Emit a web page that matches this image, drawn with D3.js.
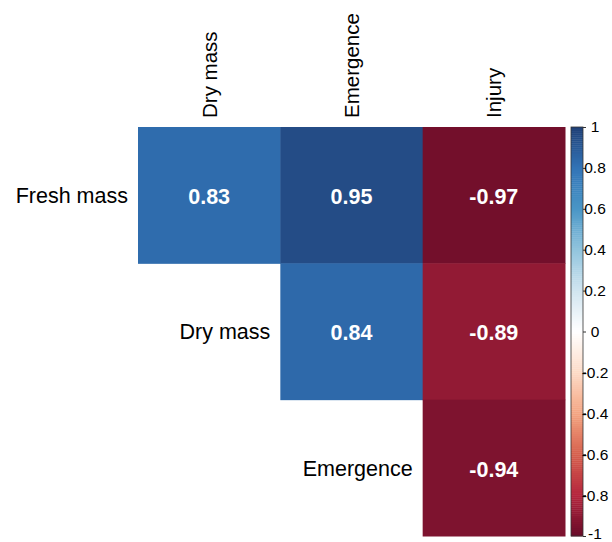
<!DOCTYPE html>
<html>
<head>
<meta charset="utf-8">
<script src="https://cdn.jsdelivr.net/npm/d3@7"></script>
<style>
  html, body { margin: 0; padding: 0; background: #fff; }
  svg { display: block; font-family: "Liberation Sans", Arial, sans-serif; }
</style>
</head>
<body>
<svg id="chart" width="612" height="542"></svg>
<script>
// Upper-triangle correlation matrix (variable pairs)
const rowLabels = ["Fresh mass", "Dry mass", "Emergence"];
const colLabels = ["Dry mass", "Emergence", "Injury"];
const freshMassRow = [0.83, 0.95, -0.97];
const dryMassRow = [null, 0.84, -0.89];
const emergenceRow = [null, null, -0.94];
const legendTicks = [1, 0.8, 0.6, 0.4, 0.2, 0, -0.2, -0.4, -0.6, -0.8, -1];

// Diverging red-blue palette anchored from -1 to 1
const paletteStops = ["#670B28", "#B5263E", "#D6604D", "#F4A582", "#FDDBC7", "#FFFFFF",
                      "#D1E5F0", "#92C5DE", "#4A96C6", "#3274B7", "#1F3F76"];

const rows = [freshMassRow, dryMassRow, emergenceRow];
const cells = [];
rows.forEach((r, i) => r.forEach((v, j) => {
  if (v !== null) cells.push({ row: rowLabels[i], col: colLabels[j], value: v });
}));

// Plain hyphen for negative numbers
const fmt2 = v => d3.format(".2f")(v).replace("\u2212", "-");

const svg = d3.select("#chart");

const x = d3.scaleBand().domain(colLabels).range([138, 565]);
const y = d3.scaleBand().domain(rowLabels).range([127, 536]);
const color = d3.scaleLinear()
  .domain(d3.range(11).map(k => -1 + k * 0.2))
  .range(paletteStops)
  .interpolate(d3.interpolateRgb);

// Cells
svg.append("g").selectAll("rect").data(cells).join("rect")
  .attr("x", d => x(d.col))
  .attr("y", d => y(d.row))
  .attr("width", x.bandwidth() + 0.5)
  .attr("height", y.bandwidth() + 0.5)
  .attr("fill", d => color(d.value));

// Cell values
svg.append("g").selectAll("text").data(cells).join("text")
  .attr("x", d => x(d.col) + x.bandwidth() / 2)
  .attr("y", d => y(d.row) + y.bandwidth() / 2 + 1)
  .attr("dy", "0.36em")
  .attr("text-anchor", "middle")
  .attr("font-size", 21.5)
  .attr("font-weight", "bold")
  .attr("fill", "#fff")
  .text(d => fmt2(d.value));

// Row labels (sit left of the first cell in each row)
svg.append("g").selectAll("text").data(rowLabels).join("text")
  .attr("x", (d, i) => x(colLabels[i]) - 10)
  .attr("y", d => y(d) + y.bandwidth() / 2)
  .attr("dy", "0.36em")
  .attr("text-anchor", "end")
  .attr("font-size", 21.5)
  .attr("fill", "#000")
  .text(d => d);

// Column labels, rotated
svg.append("g").selectAll("text").data(colLabels).join("text")
  .attr("transform", d => `translate(${x(d) + x.bandwidth() / 2 + 7.5},118) rotate(-90)`)
  .attr("text-anchor", "start")
  .attr("font-size", 20.5)
  .attr("fill", "#000")
  .text(d => d);

// Colour legend
const legendX = 571, legendW = 12;
const ly = d3.scaleLinear().domain([-1, 1]).range([536, 127]);
const steps = d3.range(200).map(k => -1 + (k + 0.5) * 2 / 200);
const stepH = (ly(-1) - ly(1)) / 200;
const legend = svg.append("g");
legend.selectAll("rect").data(steps).join("rect")
  .attr("x", legendX)
  .attr("y", d => ly(d) - stepH / 2)
  .attr("width", legendW)
  .attr("height", stepH + 0.4)
  .attr("fill", d => color(d));
legend.append("rect")
  .attr("x", legendX).attr("y", ly(1))
  .attr("width", legendW).attr("height", ly(-1) - ly(1))
  .attr("fill", "none").attr("stroke", "#333").attr("stroke-width", 0.8);

const axis = d3.axisRight(ly)
  .tickValues(legendTicks)
  .tickSize(3)
  .tickPadding(2)
  .tickFormat(d => d === 0 ? "0" : String(+d.toFixed(1)));
const axisG = svg.append("g")
  .attr("transform", `translate(${legendX + legendW},0)`)
  .call(axis);
axisG.select(".domain").remove();
axisG.selectAll(".tick line").attr("stroke", "#333");
axisG.selectAll(".tick text")
  .attr("x", 12)
  .attr("y", d => d === -1 ? -2 : 0)
  .attr("text-anchor", "middle")
  .attr("font-size", 15.5)
  .attr("font-family", "\"Liberation Sans\", Arial, sans-serif")
  .attr("fill", "#000");
</script>
</body>
</html>
